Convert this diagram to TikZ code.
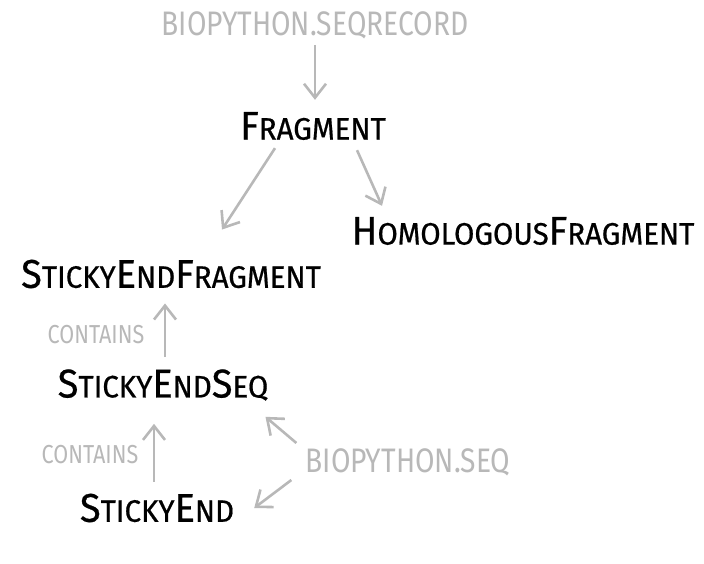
\documentclass[tikz,border=0pt]{standalone}
\usepackage{fontspec}
\setmainfont{Fira Sans}[FakeStretch=0.95,FakeBold=0.6]
\newfontfamily\narrowfont{Fira Sans}[FakeStretch=0.83]
\usetikzlibrary{positioning,arrows.meta,calc}
\newcommand{\capsc}[2]{{\fontsize{40}{44}\selectfont #1}{\fontsize{31}{34}\selectfont #2}}
\definecolor{pale}{gray}{0.72}
\begin{document}
\begin{tikzpicture}[x=1pt,y=-1pt,
 cls/.style={inner sep=0pt,text=black,font=\fontsize{31}{34}\selectfont},
 pkg/.style={inner sep=0pt,text=pale,font=\narrowfont\fontsize{34}{36}\selectfont},
 lbl/.style={inner sep=0pt,text=pale,font=\narrowfont\fontsize{26}{28}\selectfont},
 arr/.style={-{Straight Barb[length=14pt,width=22pt]},draw=pale,line width=2.6pt}]
\useasboundingbox (0,0) rectangle (704,564);
\node[pkg] (seqrec) at (315,25) {BIOPYTHON.SEQRECORD};
\node[cls] (frag) at (313,126) {\capsc{F}{RAGMENT}};
\node[cls] (homfrag) at (523,231) {\capsc{H}{OMOLOGOUS}\capsc{F}{RAGMENT}};
\node[cls] (sefrag) at (171,274) {\capsc{S}{TICKY}\capsc{E}{ND}\capsc{F}{RAGMENT}};
\node[cls] (seseq) at (163,385) {\capsc{S}{TICKY}\capsc{E}{ND}\capsc{S}{EQ}};
\node[cls] (send) at (157,508) {\capsc{S}{TICKY}\capsc{E}{ND}};
\node[pkg] (seq) at (408,462) {BIOPYTHON.SEQ};
\node[lbl] (cont1) at (96,335) {CONTAINS};
\node[lbl] (cont2) at (90,455) {CONTAINS};
\draw[arr] ($(seqrec.south)+(0,6)$) -- ($(frag.north)+(2,-12)$);
\draw[arr] ($(frag.south)+(-38,8)$) -- ($(sefrag.north)+(51,-30)$);
\draw[arr] ($(frag.south)+(44,10)$) -- ($(homfrag.north)+(-141,-11)$);
\draw[arr] ($(seseq.north)+(2,-12)$) -- ($(sefrag.south)+(-6,15)$);
\draw[arr] ($(send.north)+(-3,-12)$) -- ($(seseq.south)+(-9,23)$);
\draw[arr] ($(seq.west)+(-9,-19)$) -- ($(seseq.south east)+(-3,16)$);
\draw[arr] ($(seq.west)+(-14,18)$) -- ($(send.east)+(20,0)$);
\end{tikzpicture}
\end{document}
